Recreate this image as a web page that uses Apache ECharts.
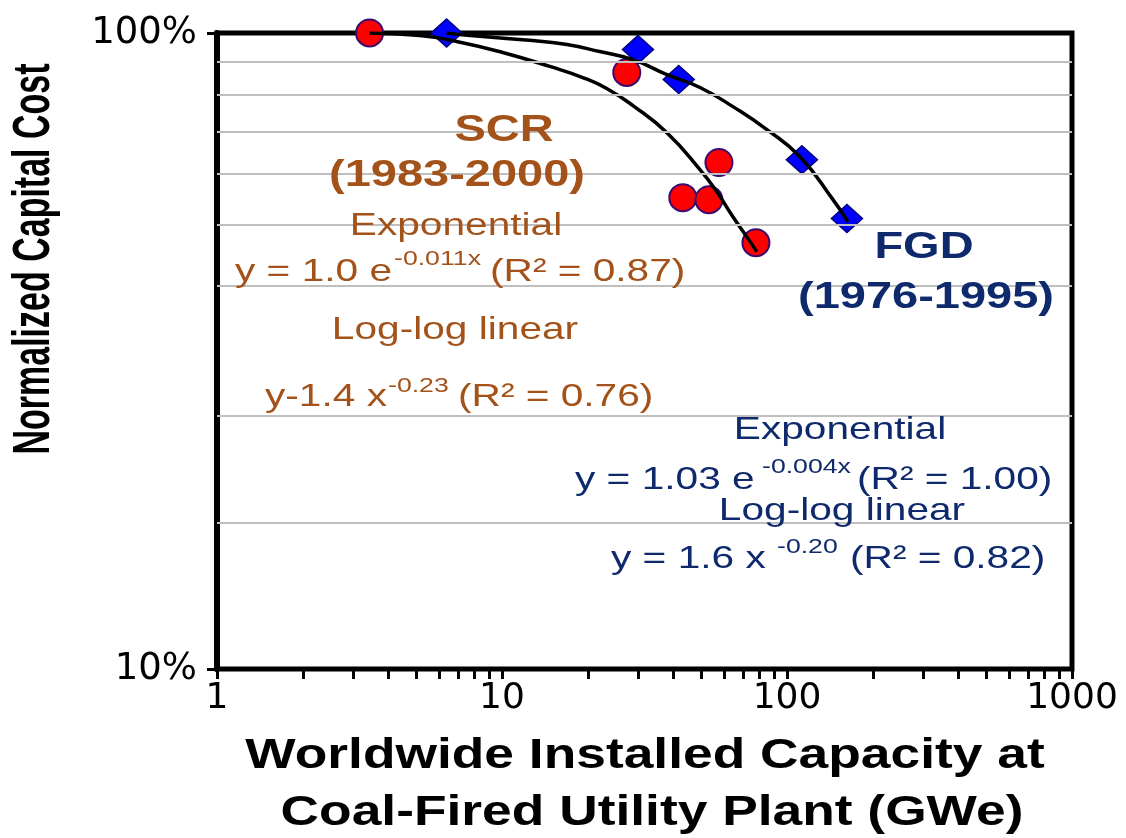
<!DOCTYPE html>
<html>
<head>
<meta charset="utf-8">
<script src="https://cdn.jsdelivr.net/npm/echarts@6/dist/echarts.min.js"></script>
<style>
html,body{margin:0;padding:0;background:#fff;}
#chart{width:1126px;height:838px;}
</style>
</head>
<body>
<div id="chart"></div>
<script>
// ---- data ----
const scrX = [3.43, 27.4, 43.1, 53.2, 57.7, 77.8];
const scrY = [1.0, 0.867, 0.551, 0.547, 0.626, 0.468];
const fgdX = [6.39, 30.0, 41.7, 112.8, 162.3];
const fgdY = [1.0, 0.942, 0.845, 0.632, 0.511];
const scrTrendX = [3.43, 5.14, 6.93, 10.06, 14.71, 19.2, 23.3, 28.8, 37.9, 49.5, 56.7, 64.6, 72.3, 78.4];
const scrTrendY = [1.0, 0.991, 0.970, 0.932, 0.886, 0.851, 0.818, 0.769, 0.697, 0.610, 0.563, 0.514, 0.478, 0.453];
const fgdTrendX = [6.39, 8.55, 12.8, 16.9, 22.0, 28.8, 37.9, 49.5, 64.6, 85.0, 111.0, 145.0, 163.6];
const fgdTrendY = [1.0, 0.987, 0.973, 0.959, 0.935, 0.908, 0.860, 0.821, 0.766, 0.705, 0.639, 0.547, 0.505];
const gridLevels = [0.9, 0.8, 0.7, 0.6, 0.5, 0.4, 0.247, 0.167];
const xTickLabels = [1, 10, 100, 1000];
const yTickValues = [0.1, 1];
const yTickLabels = ['10%', '100%'];

const zip = (xs, ys) => xs.map((x, i) => [x, ys[i]]);
const xMinorTicks = [];
for (let d = 0; d < xTickLabels.length - 1; d++) {
  for (let m = 1; m <= 9; m++) xMinorTicks.push(m * xTickLabels[d]);
}
xMinorTicks.push(xTickLabels[xTickLabels.length - 1]);

const BROWN = '#A3521A';
const NAVY = '#0E2A6C';
const F = '"Liberation Sans"';
const SX = 1.27; // the reference's lettering is horizontally widened

function txt(x, y, text, font, fill, align) {
  return { type: 'text', x: x, y: y, z: 100, scaleX: SX, scaleY: 1,
    style: { text: text, font: font, fill: fill, textAlign: align || 'center', textVerticalAlign: 'middle' } };
}

const chart = echarts.init(document.getElementById('chart'), null, { renderer: 'canvas' });
chart.setOption({
  animation: false,
  backgroundColor: '#fff',
  grid: { left: 217, right: 54, top: 33, bottom: 169, containLabel: false, outerBoundsMode: 'none',
          show: true, borderColor: '#000', borderWidth: 5, backgroundColor: 'transparent' },
  xAxis: {
    type: 'log', logBase: 10, min: 1, max: 1000,
    axisLine: { show: true, onZero: false, lineStyle: { color: '#000', width: 4 } },
    axisTick: { show: true, inside: false, length: 10, customValues: xMinorTicks, lineStyle: { color: '#000', width: 3 } },
    minorTick: { show: false },
    axisLabel: { show: true, customValues: xTickLabels, margin: 12, color: '#000',
      fontFamily: 'DejaVu Sans', fontSize: 36, formatter: v => String(Math.round(v)) },
    splitLine: { show: false }
  },
  yAxis: {
    type: 'log', logBase: 10, min: 0.1, max: 1,
    axisLine: { show: true, onZero: false, lineStyle: { color: '#000', width: 6 } },
    axisTick: { show: true, inside: false, length: 10, customValues: yTickValues, lineStyle: { color: '#000', width: 3 } },
    axisLabel: { show: true, customValues: yTickValues, margin: 20, color: '#000',
      fontFamily: 'DejaVu Sans', fontSize: 37,
      formatter: v => yTickLabels[yTickValues.findIndex(t => Math.abs(t - v) < 1e-9)] },
    splitLine: { show: false }
  },
  series: [
    { type: 'line', name: 'grid', data: [], z: 1, silent: true,
      markLine: { silent: true, symbol: ['none', 'none'], label: { show: false },
        lineStyle: { color: '#BFBFBF', width: 2, type: 'solid' },
        data: gridLevels.map(v => ({ yAxis: v })) } },
    { type: 'scatter', name: 'SCR', data: zip(scrX, scrY), z: 3, symbol: 'circle', symbolSize: 27,
      itemStyle: { color: '#FF0000', opacity: 1, borderColor: '#3A0A70', borderWidth: 2 } },
    { type: 'scatter', name: 'FGD', data: zip(fgdX, fgdY), z: 3, symbol: 'diamond', symbolSize: [31, 28],
      itemStyle: { color: '#0000FF', opacity: 1, borderColor: '#000080', borderWidth: 1.5 } },
    { type: 'line', name: 'SCR trend', data: zip(scrTrendX, scrTrendY), z: 4, smooth: 0.5,
      showSymbol: false, symbol: 'none', lineStyle: { color: '#000', width: 3.5 } },
    { type: 'line', name: 'FGD trend', data: zip(fgdTrendX, fgdTrendY), z: 4, smooth: 0.5,
      showSymbol: false, symbol: 'none', lineStyle: { color: '#000', width: 3.5 } }
  ],
  graphic: [
    // axis titles
    { type: 'text', x: 35, y: 259, rotation: Math.PI / 2, scaleX: 1, scaleY: 1.5, z: 100,
      style: { text: 'Normalized Capital Cost', font: 'bold 34px ' + F, fill: '#000',
               textAlign: 'center', textVerticalAlign: 'middle' } },
    txt(645, 756, 'Worldwide Installed Capacity at', 'bold 42px ' + F, '#000'),
    txt(652, 813, 'Coal-Fired Utility Plant (GWe)', 'bold 42px ' + F, '#000'),
    // SCR annotations
    txt(504, 131, 'SCR', 'bold 37px ' + F, BROWN),
    txt(457, 176, '(1983-2000)', 'bold 37px ' + F, BROWN),
    txt(456, 226, 'Exponential', '32px ' + F, BROWN),
    txt(235, 272, 'y = 1.0 e', '32px ' + F, BROWN, 'left'),
    txt(394, 259, '-0.011x', '21px ' + F, BROWN, 'left'),
    txt(490, 272, '(R\u00B2 = 0.87)', '32px ' + F, BROWN, 'left'),
    txt(455, 330, 'Log-log linear', '32px ' + F, BROWN),
    txt(265, 397, 'y-1.4 x', '32px ' + F, BROWN, 'left'),
    txt(388, 386, '-0.23', '21px ' + F, BROWN, 'left'),
    txt(458, 397, '(R\u00B2 = 0.76)', '32px ' + F, BROWN, 'left'),
    // FGD annotations
    txt(924, 248, 'FGD', 'bold 37px ' + F, NAVY),
    txt(926, 298, '(1976-1995)', 'bold 37px ' + F, NAVY),
    txt(840, 430, 'Exponential', '32px ' + F, NAVY),
    txt(575, 480, 'y = 1.03 e', '32px ' + F, NAVY, 'left'),
    txt(762, 467, '-0.004x', '21px ' + F, NAVY, 'left'),
    txt(857, 480, '(R\u00B2 = 1.00)', '32px ' + F, NAVY, 'left'),
    txt(842, 511, 'Log-log linear', '32px ' + F, NAVY),
    txt(611, 559, 'y = 1.6 x', '32px ' + F, NAVY, 'left'),
    txt(777, 547, '-0.20', '21px ' + F, NAVY, 'left'),
    txt(850, 559, '(R\u00B2 = 0.82)', '32px ' + F, NAVY, 'left')
  ]
});
</script>
</body>
</html>
